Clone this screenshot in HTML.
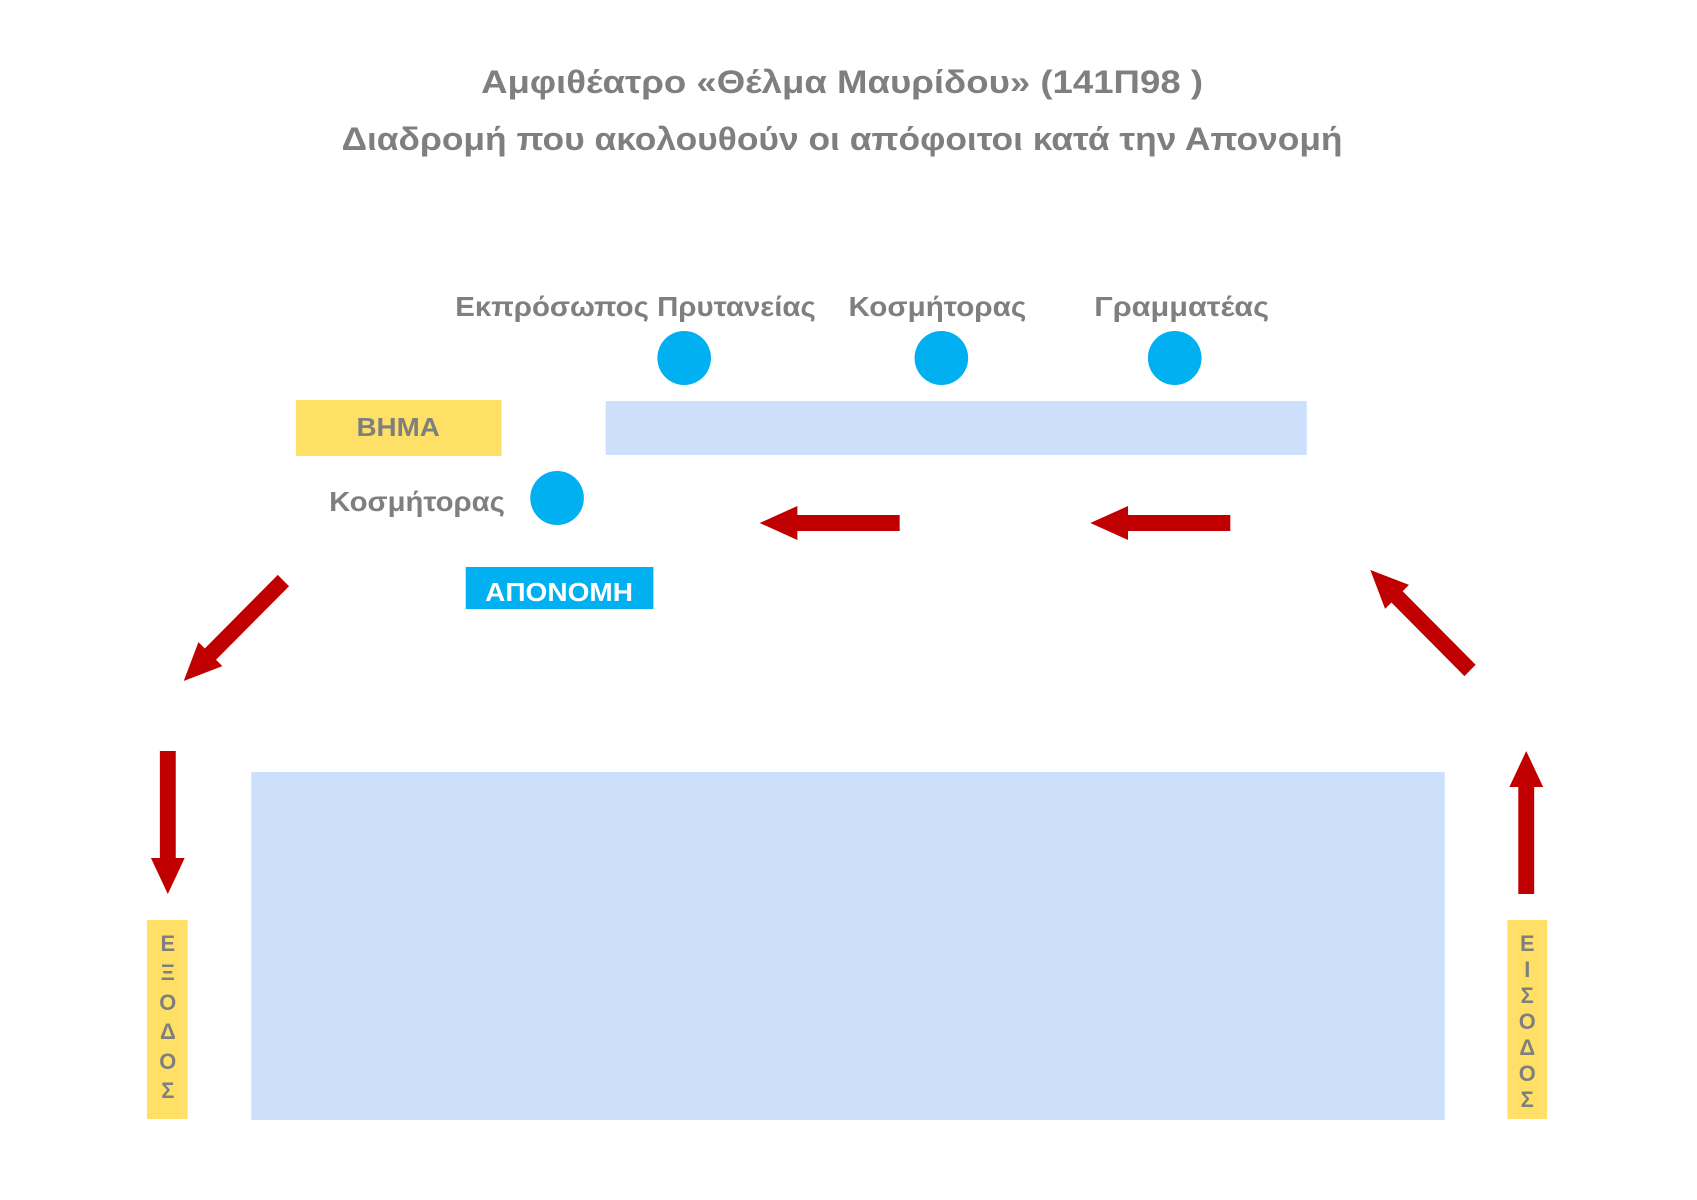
<!DOCTYPE html>
<html><head><meta charset="utf-8"><style>
html,body{margin:0;padding:0;background:#fff;}
svg{display:block}
text{font-family:"Liberation Sans","DejaVu Sans",sans-serif;font-weight:bold;fill:#7f7f7f}
</style></head><body>
<svg width="1697" height="1200" viewBox="0 0 1697 1200" xmlns="http://www.w3.org/2000/svg">
<g transform="translate(0,-4) scale(0.993,1)">
<text x="848" y="97" font-size="32" text-anchor="middle" textLength="727" lengthAdjust="spacingAndGlyphs">Αμφιθέατρο «Θέλμα Μαυρίδου» (141Π98 )</text>
<text x="848" y="154" font-size="32" text-anchor="middle" textLength="1008" lengthAdjust="spacingAndGlyphs">Διαδρομή που ακολουθούν οι απόφοιτοι κατά την Απονομή</text>
<text x="640" y="320" font-size="28" text-anchor="middle" textLength="363" lengthAdjust="spacingAndGlyphs">Εκπρόσωπος Πρυτανείας</text>
<text x="944" y="320" font-size="28" text-anchor="middle" textLength="179" lengthAdjust="spacingAndGlyphs">Κοσμήτορας</text>
<text x="1190" y="320" font-size="28" text-anchor="middle" textLength="176" lengthAdjust="spacingAndGlyphs">Γραμματέας</text>
<circle cx="689" cy="362" r="27" fill="#00b0f0"/>
<circle cx="948" cy="362" r="27" fill="#00b0f0"/>
<circle cx="1183" cy="362" r="27" fill="#00b0f0"/>
<rect x="610" y="405" width="706" height="54" fill="#cce0fc"/>
<rect x="298" y="404" width="207" height="56" fill="#ffe066"/>
<text x="401" y="440" font-size="26" text-anchor="middle" textLength="84" lengthAdjust="spacingAndGlyphs">ΒΗΜΑ</text>
<text x="420" y="515" font-size="28" text-anchor="middle" textLength="177" lengthAdjust="spacingAndGlyphs">Κοσμήτορας</text>
<circle cx="561" cy="502" r="27" fill="#00b0f0"/>
<rect x="469" y="571" width="189" height="42" fill="#00b0f0"/>
<text x="563" y="605" font-size="26" text-anchor="middle" textLength="149" lengthAdjust="spacingAndGlyphs" style="fill:#fff">ΑΠΟΝΟΜΗ</text>
<rect x="253" y="776" width="1202" height="348" fill="#cce0fc"/>
<g fill="#c00000">
<polygon points="765,527 803,510 803,519 906,519 906,535 803,535 803,544"/>
<polygon points="1098,527 1136,510 1136,519 1239,519 1239,535 1136,535 1136,544"/>
<g transform="translate(185,685) rotate(-45)"><polygon points="0,0 38,-17 38,-8 142,-8 142,8 38,8 38,17"/></g>
<g transform="translate(1380,574) rotate(45)"><polygon points="0,0 38,-17 38,-8 142,-8 142,8 38,8 38,17"/></g>
<polygon points="169,898 152,862 161,862 161,755 177,755 177,862 186,862"/>
<polygon points="1537,755 1520,791 1529,791 1529,898 1545,898 1545,791 1554,791"/>
</g>
<rect x="148" y="924" width="41" height="199" fill="#ffe066"/>
<rect x="1518" y="924" width="40" height="199" fill="#ffe066"/>
<g font-size="22" text-anchor="middle">
<text x="169" y="955">Ε</text><text x="169" y="984">Ξ</text><text x="169" y="1014">Ο</text><text x="169" y="1043">Δ</text><text x="169" y="1073">Ο</text><text x="169" y="1102">Σ</text>
<text x="1538" y="955">Ε</text><text x="1538" y="981">Ι</text><text x="1538" y="1007">Σ</text><text x="1538" y="1033">Ο</text><text x="1538" y="1059">Δ</text><text x="1538" y="1085">Ο</text><text x="1538" y="1111">Σ</text>
</g>
</g>
</svg>
</body></html>
